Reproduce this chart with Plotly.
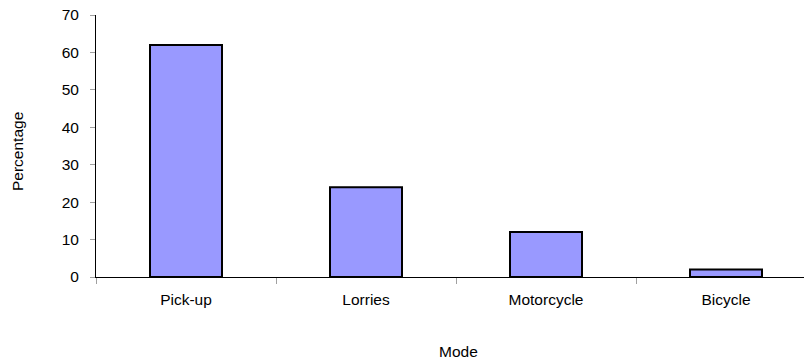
import plotly.graph_objects as go

categories = ["Pick-up", "Lorries", "Motorcycle", "Bicycle"]
values = [62, 24, 12, 2]
y_ticks = [0, 10, 20, 30, 40, 50, 60, 70]

W, H = 804, 362
L, R, T, B = 96, 0, 15, 85
pw = W - L - R
ph = H - T - B

fig = go.Figure()
fig.add_trace(go.Bar(
    x=categories, y=values, width=0.4,
    marker=dict(color="#9999FF", line=dict(color="#000000", width=2)),
))

font = dict(family="Liberation Sans, Arial, sans-serif", size=15.5, color="#000000")

fig.update_layout(
    width=W, height=H,
    margin=dict(l=L, r=R, t=T, b=B, pad=0),
    paper_bgcolor="white", plot_bgcolor="white",
    showlegend=False,
    font=font,
    xaxis=dict(
        range=[-0.5, 3.5 - 12 / 180],
        showline=True, linecolor="#000000", linewidth=1,
        ticks="outside", tickson="boundaries", ticklen=6, tickcolor="#A0A0A0", tickwidth=1,
        showgrid=False, zeroline=False, ticklabelstandoff=8,
        tickfont=font,
    ),
    yaxis=dict(
        range=[0, 70], tickvals=y_ticks,
        showline=True, linecolor="#000000", linewidth=1,
        ticks="outside", ticklen=5, tickcolor="#A0A0A0", tickwidth=1,
        showgrid=False, zeroline=False, ticklabelstandoff=8,
        tickfont=font,
    ),
    annotations=[
        dict(text="Percentage", textangle=-90, xref="paper", yref="paper",
             x=(18 - L) / pw, y=(H - B - 152) / ph, xanchor="center", yanchor="middle",
             showarrow=False, font=font),
        dict(text="Mode", xref="paper", yref="paper",
             x=(458 - L) / pw, y=-(351 - (H - B)) / ph, xanchor="center", yanchor="middle",
             showarrow=False, font=font),
    ],
)

fig.write_html(
    "out.html",
    config={"displayModeBar": False},
    post_script="document.body.style.margin='0';document.body.style.overflow='hidden';",
)
